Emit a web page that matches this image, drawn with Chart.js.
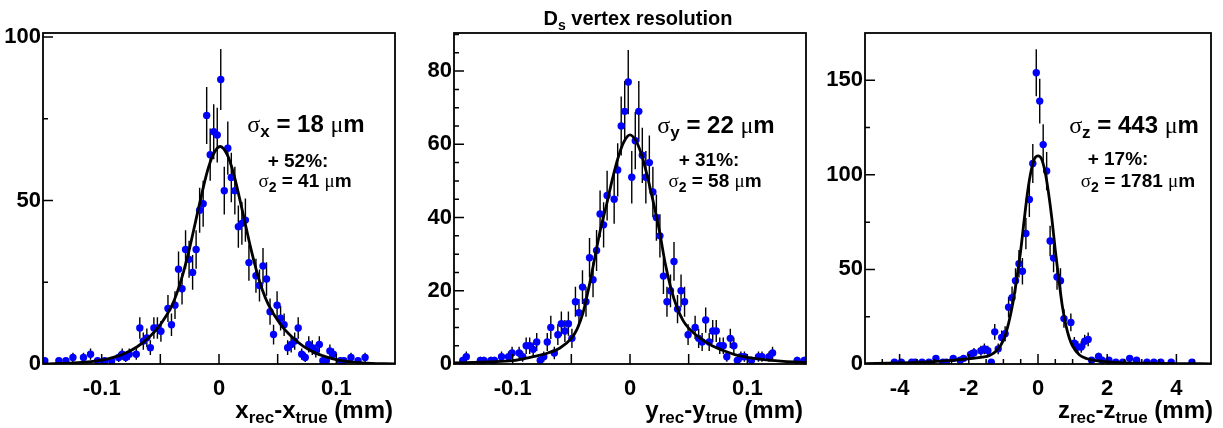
<!DOCTYPE html>
<html>
<head>
<meta charset="utf-8">
<script src="https://cdn.jsdelivr.net/npm/chart.js@4.4.1/dist/chart.umd.min.js"></script>
<style>
  html, body { margin: 0; padding: 0; background: #fff; }
  #page { position: relative; width: 1223px; height: 428px; overflow: hidden; }
  canvas { position: absolute; top: 0; }
  svg { position: absolute; left: 0; top: 0; }
  svg text { font-family: "Liberation Sans", Arial, sans-serif; font-weight: bold; fill: #000; white-space: pre; }
  .sym { font-family: "Liberation Serif", "DejaVu Serif", serif; font-weight: normal; }
</style>
</head>
<body>
<div id="page">
  <canvas id="panel-x" width="410" height="428" style="left:0"></canvas>
  <canvas id="panel-y" width="410" height="428" style="left:410px"></canvas>
  <canvas id="panel-z" width="403" height="428" style="left:820px"></canvas>

  <svg width="1223" height="428">
    <text x="638" y="25" text-anchor="middle" font-size="20">D<tspan font-size="14" dy="5">s</tspan><tspan dy="-5"> vertex resolution</tspan></text>

    <text x="393" y="418" text-anchor="end" font-size="24">x<tspan font-size="17" dy="5">rec</tspan><tspan dy="-5">-x</tspan><tspan font-size="17" dy="5">true</tspan><tspan dy="-5"> (mm)</tspan></text>
    <text x="803" y="418" text-anchor="end" font-size="24">y<tspan font-size="17" dy="5">rec</tspan><tspan dy="-5">-y</tspan><tspan font-size="17" dy="5">true</tspan><tspan dy="-5"> (mm)</tspan></text>
    <text x="1213" y="418" text-anchor="end" font-size="24">z<tspan font-size="17" dy="5">rec</tspan><tspan dy="-5">-z</tspan><tspan font-size="17" dy="5">true</tspan><tspan dy="-5"> (mm)</tspan></text>

    <text x="306" y="132" text-anchor="middle" font-size="24"><tspan class="sym">σ</tspan><tspan font-size="17" dy="5">x</tspan><tspan dy="-5"> = 18 </tspan><tspan class="sym">μ</tspan>m</text>
    <text x="298" y="167" text-anchor="middle" font-size="19">+ 52%:</text>
    <text x="305" y="187" text-anchor="middle" font-size="19"><tspan class="sym">σ</tspan><tspan font-size="14" dy="5">2</tspan><tspan dy="-5"> = 41 </tspan><tspan class="sym">μ</tspan>m</text>

    <text x="716" y="133" text-anchor="middle" font-size="24"><tspan class="sym">σ</tspan><tspan font-size="17" dy="5">y</tspan><tspan dy="-5"> = 22 </tspan><tspan class="sym">μ</tspan>m</text>
    <text x="709" y="166" text-anchor="middle" font-size="19">+ 31%:</text>
    <text x="715" y="187" text-anchor="middle" font-size="19"><tspan class="sym">σ</tspan><tspan font-size="14" dy="5">2</tspan><tspan dy="-5"> = 58 </tspan><tspan class="sym">μ</tspan>m</text>

    <text x="1134" y="133" text-anchor="middle" font-size="24"><tspan class="sym">σ</tspan><tspan font-size="17" dy="5">z</tspan><tspan dy="-5"> = 443 </tspan><tspan class="sym">μ</tspan>m</text>
    <text x="1118" y="165" text-anchor="middle" font-size="19">+ 17%:</text>
    <text x="1138" y="187" text-anchor="middle" font-size="19"><tspan class="sym">σ</tspan><tspan font-size="14" dy="5">2</tspan><tspan dy="-5"> = 1781 </tspan><tspan class="sym">μ</tspan>m</text>
  </svg>
</div>

<script>
// --- 1. Data ---

// x residuals: bin centres (mm) and entries
const resXCenters = [-0.1485, -0.1365, -0.1305, -0.1245, -0.1155, -0.1095, -0.1035, -0.0975, -0.0915, -0.0855,
  -0.0825, -0.0795, -0.0765, -0.0705, -0.0675, -0.0645, -0.0615, -0.0585, -0.0555, -0.0525,
  -0.0495, -0.0435, -0.0405, -0.0375, -0.0345, -0.0315, -0.0285, -0.0255, -0.0225, -0.0195,
  -0.0165, -0.0135, -0.0105, -0.0075, -0.0045, -0.0015, 0.0015, 0.0045, 0.0075, 0.0105,
  0.0135, 0.0165, 0.0195, 0.0225, 0.0255, 0.0315, 0.0345, 0.0375, 0.0405, 0.0435,
  0.0465, 0.0495, 0.0525, 0.0555, 0.0585, 0.0615, 0.0645, 0.0675, 0.0705, 0.0735,
  0.0765, 0.0795, 0.0825, 0.0855, 0.0885, 0.0915, 0.0945, 0.0975, 0.1035, 0.1065,
  0.1125, 0.1185, 0.1245];
const resXCounts = [1, 1, 1, 2, 2, 3, 1, 1, 1, 2,
  3, 2, 3, 3, 11, 7, 8, 5, 11, 11,
  10, 17, 12, 18, 29, 23, 35, 32, 28, 35,
  47, 49, 76, 64, 71, 70, 87, 53, 66, 57,
  53, 42, 43, 44, 31, 27, 24, 30, 26, 16,
  9, 18, 14, 12, 5, 6, 7, 11, 3, 2,
  6, 5, 4, 6, 1, 1, 4, 3, 1, 1,
  2, 1, 2];
const fitXPos = [-0.15, -0.12, -0.10, -0.09, -0.08, -0.07, -0.06, -0.05, -0.04, -0.035, -0.03, -0.025, -0.02,
  -0.015, -0.01, -0.005, 0.001, 0.007, 0.012, 0.017, 0.022, 0.027, 0.032, 0.037, 0.042, 0.052,
  0.062, 0.072, 0.082, 0.092, 0.102, 0.122, 0.15];
const fitXVal = [0.05, 0.4, 1.2, 2.0, 3.3, 5.2, 8.0, 12.0, 18.0, 22.6, 28.5, 35.5, 43.5,
  51.5, 58.8, 64.0, 66.5, 64.0, 58.8, 51.5, 43.5, 35.5, 28.5, 22.6, 18.2, 12.3,
  8.3, 5.4, 3.4, 2.1, 1.2, 0.35, 0.05];

// y residuals
const resYCenters = [-0.1425, -0.1395, -0.1275, -0.1245, -0.1185, -0.1155, -0.1095, -0.1035, -0.1005, -0.0945,
  -0.0915, -0.0885, -0.0855, -0.0825, -0.0795, -0.0765, -0.0735, -0.0705, -0.0675, -0.0645,
  -0.0615, -0.0585, -0.0555, -0.0525, -0.0495, -0.0465, -0.0435, -0.0405, -0.0375, -0.0345,
  -0.0315, -0.0285, -0.0255, -0.0225, -0.0195, -0.0135, -0.0105, -0.0075, -0.0045, -0.0015,
  0.0015, 0.0045, 0.0075, 0.0105, 0.0135, 0.0165, 0.0195, 0.0225, 0.0255, 0.0285,
  0.0315, 0.0345, 0.0375, 0.0405, 0.0435, 0.0465, 0.0495, 0.0555, 0.0585, 0.0615,
  0.0645, 0.0675, 0.0705, 0.0735, 0.0765, 0.0795, 0.0825, 0.0855, 0.0885, 0.0915,
  0.0945, 0.0975, 0.1035, 0.1095, 0.1125, 0.1185, 0.1215, 0.1425, 0.1485];
const resYCounts = [1, 2, 1, 1, 1, 1, 2, 2, 3, 3,
  2, 5, 5, 4, 6, 1, 2, 6, 10, 3,
  8, 11, 9, 11, 7, 17, 14, 21, 17, 29,
  23, 31, 41, 38, 46, 45, 53, 65, 69, 77,
  51, 61, 69, 57, 51, 55, 47, 40, 35, 24,
  17, 20, 28, 15, 20, 17, 8, 10, 7, 6,
  12, 6, 9, 9, 5, 5, 2, 7, 5, 1,
  2, 2, 1, 2, 2, 2, 3, 1, 1];
const fitYPos = [-0.15, -0.12, -0.10, -0.085, -0.07, -0.06, -0.05, -0.045, -0.04, -0.035, -0.03, -0.025, -0.02,
  -0.015, -0.01, -0.005, 0, 0.005, 0.01, 0.015, 0.02, 0.025, 0.03, 0.035, 0.04, 0.045,
  0.05, 0.06, 0.07, 0.08, 0.09, 0.10, 0.12, 0.15];
const fitYVal = [0.3, 0.6, 0.9, 1.8, 3.0, 4.3, 7.0, 9.6, 14.0, 21.0, 29.0, 37.0, 43.5,
  50.5, 56.5, 60.8, 62.6, 61.0, 57.0, 51.0, 44.0, 36.5, 27.5, 20.5, 15.5, 12.0,
  9.8, 7.0, 5.0, 3.6, 2.5, 1.8, 1.0, 0.4];

// z residuals
const resZCenters = [-4.15, -3.95, -3.65, -3.55, -3.35, -3.15, -2.95, -2.75, -2.65, -2.45,
  -2.25, -2.15, -1.95, -1.85, -1.65, -1.55, -1.45, -1.35, -1.25, -1.15,
  -1.05, -0.95, -0.85, -0.75, -0.65, -0.55, -0.45, -0.35, -0.25, -0.15,
  -0.05, 0.05, 0.15, 0.25, 0.35, 0.45, 0.55, 0.65, 0.75, 0.95,
  1.05, 1.15, 1.25, 1.35, 1.45, 1.55, 1.75, 1.85, 2.05, 2.25,
  2.45, 2.65, 2.85, 3.15, 3.35, 3.55, 3.85, 4.45];
const resZCounts = [1, 1, 1, 1, 1, 1, 3, 1, 1, 3,
  2, 3, 5, 6, 7, 8, 7, 1, 17, 8,
  14, 16, 30, 35, 44, 53, 49, 69, 87, 106,
  154, 139, 116, 102, 65, 56, 46, 44, 24, 22,
  11, 9, 9, 12, 13, 2, 4, 2, 2, 1,
  1, 3, 2, 1, 1, 1, 1, 1];
const fitZPos = [-5, -4, -3, -2.5, -2, -1.6, -1.4, -1.2, -1.0, -0.9, -0.8, -0.7, -0.6, -0.5, -0.4, -0.3,
  -0.2, -0.1, 0, 0.1, 0.2, 0.3, 0.4, 0.5, 0.6, 0.7, 0.8, 0.9, 1.0, 1.2, 1.4, 1.6, 2.0, 2.5, 3, 4, 5];
const fitZVal = [0.2, 0.6, 1.3, 1.9, 2.8, 3.6, 4.5, 7.0, 12.5, 18.0, 25.5, 35.0, 47.0, 60.0, 76.0, 91.0,
  102.0, 108.5, 110.0, 108.5, 102.0, 91.0, 77.0, 60.0, 45.0, 31.0, 21.0, 14.0, 9.5, 4.8, 2.9, 2.0, 1.1, 0.6, 0.4, 0.2, 0.1];

// tick labels
const xLabelsX = [-0.1, 0, 0.1];
const yLabelsX = [0, 50, 100];
const xLabelsY = [-0.1, 0, 0.1];
const yLabelsY = [0, 20, 40, 60, 80];
const xLabelsZ = [-4, -2, 0, 2, 4];
const yLabelsZ = [0, 50, 100, 150];

// --- 2. Helpers ---

const tickFont = { family: "'Liberation Sans', Arial, sans-serif", size: 22, weight: "bold" };

function isLabelled(v, labels) {
  return labels.some(l => Math.abs(l - v) < 1e-6);
}

function tickText(v, labels) {
  const hit = labels.find(l => Math.abs(l - v) < 1e-6);
  return hit === undefined ? "" : String(hit);
}

// ROOT-like frame, inward ticks and sqrt(N) error bars
const rootFrame = {
  id: "rootFrame",
  beforeDatasetsDraw(chart) {
    const { ctx, chartArea: a, scales: { x, y } } = chart;
    const pts = chart.data.datasets[1].data;
    ctx.save();
    ctx.beginPath();
    ctx.rect(a.left, a.top, a.right - a.left, a.bottom - a.top);
    ctx.clip();
    ctx.strokeStyle = "#000";
    ctx.lineWidth = 1.4;
    ctx.beginPath();
    pts.forEach(p => {
      const e = Math.sqrt(p.y);
      const px = x.getPixelForValue(p.x);
      ctx.moveTo(px, y.getPixelForValue(p.y - e));
      ctx.lineTo(px, y.getPixelForValue(p.y + e));
    });
    ctx.stroke();
    ctx.restore();
  },
  afterDraw(chart, args, opts) {
    const { ctx, chartArea: a, scales: { x, y } } = chart;
    ctx.save();
    ctx.strokeStyle = "#000";
    ctx.lineWidth = 1.5;
    ctx.beginPath();
    x.ticks.forEach(t => {
      const px = x.getPixelForValue(t.value);
      if (px < a.left + 1 || px > a.right - 1) return;
      const len = isLabelled(t.value, opts.xLabels) ? 10 : opts.xMinor;
      ctx.moveTo(px, a.bottom);
      ctx.lineTo(px, a.bottom - len);
    });
    y.ticks.forEach(t => {
      const py = y.getPixelForValue(t.value);
      if (py < a.top + 1 || py > a.bottom - 1) return;
      const len = isLabelled(t.value, opts.yLabels) ? 10 : 5;
      ctx.moveTo(a.left, py);
      ctx.lineTo(a.left + len, py);
    });
    ctx.stroke();
    ctx.lineWidth = 1.8;
    ctx.strokeRect(a.left, a.top, a.right - a.left, a.bottom - a.top);
    ctx.restore();
  }
};

function makePanel(id, p) {
  return new Chart(document.getElementById(id), {
    type: "scatter",
    data: {
      datasets: [
        {
          type: "line",
          data: p.fitPos.map((v, i) => ({ x: v, y: p.fitVal[i] })),
          borderColor: "#000",
          borderWidth: 2.8,
          pointRadius: 0,
          fill: false,
          cubicInterpolationMode: "monotone"
        },
        {
          data: p.centers.map((v, i) => ({ x: v, y: p.counts[i] })),
          pointRadius: 3.7,
          pointBorderWidth: 0,
          backgroundColor: "#0000ff",
          borderColor: "#0000ff"
        }
      ]
    },
    options: {
      responsive: false,
      animation: false,
      devicePixelRatio: 1,
      layout: { padding: { left: 0, right: p.padRight, top: 33, bottom: 0 } },
      plugins: {
        legend: { display: false },
        tooltip: { enabled: false },
        rootFrame: { xLabels: p.xLabels, yLabels: p.yLabels, xMinor: p.xMinor }
      },
      scales: {
        x: {
          type: "linear",
          min: p.xMin,
          max: p.xMax,
          grid: { display: false, drawTicks: false },
          border: { display: false },
          afterFit: s => { s.height = 64; },
          ticks: {
            stepSize: p.xStep,
            autoSkip: false,
            maxRotation: 0,
            minRotation: 0,
            includeBounds: false,
            padding: 12,
            color: "#000",
            font: tickFont,
            callback: v => tickText(v, p.xLabels)
          }
        },
        y: {
          type: "linear",
          min: 0,
          max: p.yMax,
          grid: { display: false, drawTicks: false },
          border: { display: false },
          afterFit: s => { s.width = p.yWidth; },
          ticks: {
            stepSize: p.yStep,
            autoSkip: false,
            includeBounds: false,
            padding: 2,
            color: "#000",
            font: tickFont,
            callback: v => tickText(v, p.yLabels)
          }
        }
      }
    },
    plugins: [rootFrame]
  });
}

// --- 3. Build the three panels ---

makePanel("panel-x", {
  centers: resXCenters, counts: resXCounts, fitPos: fitXPos, fitVal: fitXVal,
  xLabels: xLabelsX, yLabels: yLabelsX,
  xMin: -0.15, xMax: 0.15, xStep: 0.05, xMinor: 10,
  yMax: 101.2, yStep: 25, yWidth: 43, padRight: 15
});

makePanel("panel-y", {
  centers: resYCenters, counts: resYCounts, fitPos: fitYPos, fitVal: fitYVal,
  xLabels: xLabelsY, yLabels: yLabelsY,
  xMin: -0.15, xMax: 0.15, xStep: 0.05, xMinor: 10,
  yMax: 90.4, yStep: 5, yWidth: 44, padRight: 14
});

makePanel("panel-z", {
  centers: resZCenters, counts: resZCounts, fitPos: fitZPos, fitVal: fitZVal,
  xLabels: xLabelsZ, yLabels: yLabelsZ,
  xMin: -5, xMax: 5, xStep: 0.5, xMinor: 5,
  yMax: 175, yStep: 25, yWidth: 45, padRight: 6
});
</script>
</body>
</html>
